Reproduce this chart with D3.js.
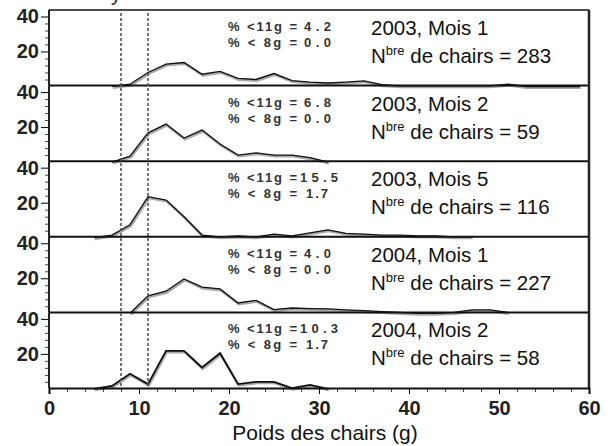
<!DOCTYPE html>
<html>
<head>
<meta charset="utf-8">
<script src="https://cdn.jsdelivr.net/npm/d3@7"></script>
<style>
  body { margin: 0; background: #fff; }
  text { font-family: "Liberation Sans", Arial, sans-serif; }
</style>
</head>
<body>
<div id="chart"></div>
<script>
// one panel per sampling period
const periods = ['2003, Mois 1', '2003, Mois 2', '2003, Mois 5', '2004, Mois 1', '2004, Mois 2'];
const counts = [283, 59, 116, 227, 58];
const pctBelow11 = ['4.2', '6.8', '15.5', '4.0', '10.3'];
const pctBelow8 = ['0.0', '0.0', '1.7', '0.0', '1.7'];

// frequency (%) per weight class (g)
const weights1 = [7, 9, 11, 13, 15, 17, 19, 21, 23, 25, 27, 29, 31, 33, 35, 37, 39, 41, 43, 45, 47, 49, 51, 53, 55, 57, 59];
const freq1 = [0, 1.3, 8, 12.8, 13.7, 7, 8.6, 4.6, 4, 7.4, 3.4, 2.5, 2, 2.5, 3.2, 1, 0.4, 0.4, 0.4, 0.4, 0.4, 0.4, 1.3, 0, 0, 0, 0];
const weights2 = [7, 9, 11, 13, 15, 17, 19, 21, 23, 25, 27, 29, 31];
const freq2 = [0, 3.4, 16.7, 21.7, 13.7, 18.3, 10.3, 4, 5.3, 4, 4, 2.5, 0];
const weights3 = [5, 7, 9, 11, 13, 15, 17, 19, 21, 23, 25, 27, 29, 31, 33, 35, 37, 39, 41, 43, 45, 47];
const freq3 = [0, 1.5, 7.4, 23.4, 21.5, 12, 1.5, 0.5, 1, 0.5, 2, 1, 2.8, 4.5, 2.5, 2, 1.5, 1.5, 1, 1, 0.5, 0.5];
const weights4 = [9, 11, 13, 15, 17, 19, 21, 23, 25, 27, 29, 31, 33, 35, 37, 39, 41, 43, 45, 47, 49, 51];
const freq4 = [0, 10, 12.6, 19.6, 14.9, 13.9, 5.9, 7.4, 2.1, 3, 2.7, 2.5, 2, 1.5, 1, 0.5, 0, 0, 0.5, 2, 2, 0.5];
const weights5 = [5, 7, 9, 11, 13, 15, 17, 19, 21, 23, 25, 27, 29, 31];
const freq5 = [0, 1.7, 8.6, 2.7, 21.7, 21.7, 12.2, 20.4, 2.7, 4, 4, 0.4, 2.3, 0];

const weightSets = [weights1, weights2, weights3, weights4, weights5];
const freqSets = [freq1, freq2, freq3, freq4, freq5];

const xTicks = [0, 10, 20, 30, 40, 50, 60];
const yTicks = [20, 40];
const limits = [8, 11];

const width = 608, height = 446;
const plot = { left: 49, right: 589, top: 10, bottom: 388 };
const panelH = (plot.bottom - plot.top) / periods.length;

const svg = d3.select('#chart').append('svg')
  .attr('width', width)
  .attr('height', height);

svg.append('rect').attr('width', width).attr('height', height).attr('fill', '#fff');

const x = d3.scaleLinear().domain([0, 60]).range([plot.left, plot.right]);

// title above is cut off in the original, only a descender shows
svg.append('text').attr('x', 111).attr('y', 1).style('font-size', '20px').attr('fill', '#222').text('y');

periods.forEach((p, i) => {
  const top = plot.top + i * panelH;
  const bottom = top + panelH;
  const y = d3.scaleLinear().domain([0.5, 43.7]).range([bottom, top]);
  const g = svg.append('g');

  const pts = weightSets[i].map((w, j) => [w, freqSets[i][j]]);
  const line = d3.line().x(d => x(d[0])).y(d => y(d[1]));

  g.append('path').datum(pts)
    .attr('d', line)
    .attr('fill', 'none')
    .attr('stroke', '#a8a8a8')
    .attr('stroke-width', 2.6)
    .attr('transform', 'translate(0.8,1.2)');
  g.append('path').datum(pts)
    .attr('d', line)
    .attr('fill', 'none')
    .attr('stroke', '#111')
    .attr('stroke-width', i == 4 ? 1.8 : 1.3);

  // y axis, minor ticks then major
  const minor = d3.range(4, 44, 4).filter(v => !yTicks.includes(v));
  const ya = g.append('g').attr('transform', `translate(${plot.left},0)`)
    .call(d3.axisLeft(y).tickValues(minor).tickSize(4).tickFormat(''));
  ya.select('.domain').remove();
  ya.selectAll('line').attr('stroke', '#444');
  const yb = g.append('g').attr('transform', `translate(${plot.left},0)`)
    .call(d3.axisLeft(y).tickValues(yTicks).tickSize(8).tickPadding(2));
  yb.select('.domain').remove();
  yb.selectAll('text').style('font-size', '20px').style('font-weight', 'bold').attr('fill', '#222');

  g.append('line')
    .attr('x1', plot.left).attr('x2', plot.left)
    .attr('y1', top).attr('y2', bottom)
    .attr('stroke', '#222').attr('stroke-width', 2);

  // annotations
  const small = (txt, xx, yy, len) => g.append('text').attr('x', xx).attr('y', yy)
    .attr('textLength', len).attr('lengthAdjust', 'spacing')
    .style('font-size', '13px').style('font-weight', 'bold').attr('fill', '#333')
    .text(txt);
  small('% <11g =', 228, top + 21, 69);
  small('% < 8g =', 228, top + 37, 69);
  if (pctBelow11[i].length > 3) small(pctBelow11[i], 300, top + 21, 38);
  else small(pctBelow11[i], 304, top + 21, 27);
  small(pctBelow8[i], i == 2 || i == 4 ? 306 : 304, top + 37, i == 2 || i == 4 ? 22 : 27);

  g.append('text').attr('x', 371).attr('y', top + 25)
    .style('font-size', '20.5px').attr('fill', '#111')
    .text(p);
  const n = g.append('text').attr('x', 371).attr('y', top + 53)
    .style('font-size', '20.5px').attr('fill', '#111');
  n.append('tspan').text('N');
  n.append('tspan').attr('dy', -8).style('font-size', '13px').text('bre');
  n.append('tspan').attr('dy', 8).text(' de chairs = ' + counts[i]);

  // panel separator
  g.append('line')
    .attr('x1', plot.left).attr('x2', plot.right)
    .attr('y1', top).attr('y2', top)
    .attr('stroke', '#111').attr('stroke-width', i == 0 ? 1.5 : 2);
});

// dashed size limits
svg.selectAll('.limit').data(limits).enter().append('line')
  .attr('class', 'limit')
  .attr('x1', d => x(d)).attr('x2', d => x(d))
  .attr('y1', plot.top + 3).attr('y2', plot.bottom)
  .attr('stroke', '#555')
  .attr('stroke-width', 1.6)
  .attr('stroke-dasharray', '3,2');

// right border
svg.append('line')
  .attr('x1', plot.right).attr('x2', plot.right)
  .attr('y1', plot.top).attr('y2', plot.bottom)
  .attr('stroke', '#222').attr('stroke-width', 2.5);

// x axis
const xMinor = d3.range(2, 60, 2).filter(v => !xTicks.includes(v));
svg.append('g').attr('transform', `translate(0,${plot.bottom})`)
  .call(d3.axisBottom(x).tickValues(xMinor).tickSize(4).tickFormat(''))
  .call(s => s.select('.domain').remove())
  .selectAll('line').attr('stroke', '#444');
const xa = svg.append('g').attr('transform', `translate(0,${plot.bottom})`)
  .call(d3.axisBottom(x).tickValues(xTicks).tickSize(6).tickPadding(7));
xa.select('.domain').attr('stroke-width', 2).attr('stroke', '#111');
xa.selectAll('text').style('font-size', '20px').style('font-weight', 'bold').attr('fill', '#222');

svg.append('text')
  .attr('x', 325).attr('y', 440)
  .attr('text-anchor', 'middle')
  .style('font-size', '21px').attr('fill', '#111')
  .text('Poids des chairs (g)');
</script>
</body>
</html>
